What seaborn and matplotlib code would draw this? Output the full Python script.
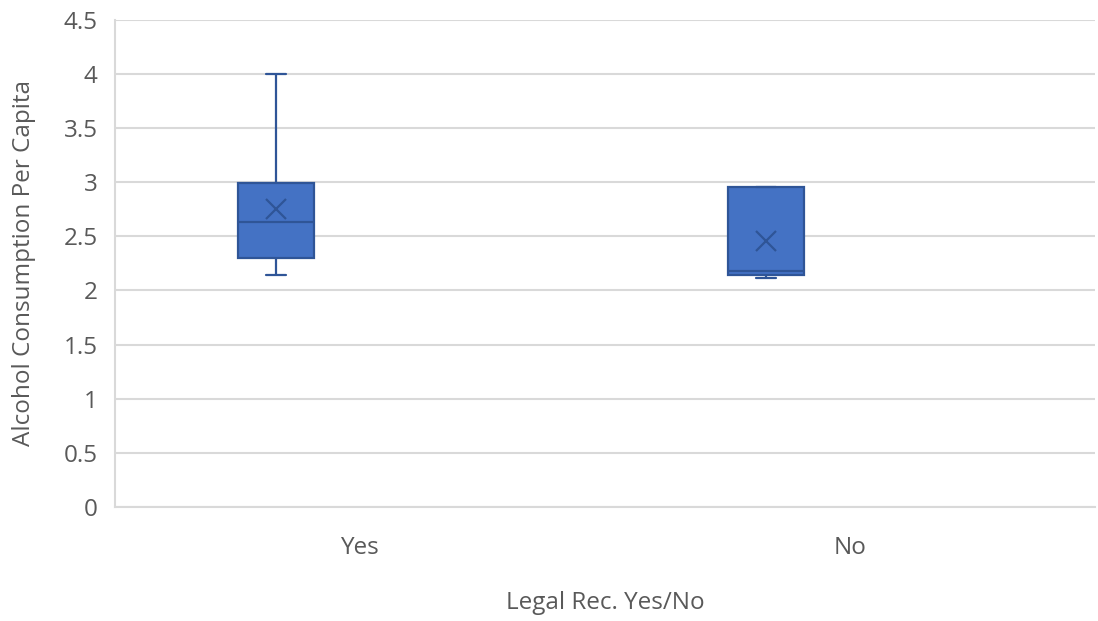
import matplotlib
matplotlib.use("Agg")
import matplotlib.pyplot as plt
import seaborn as sns
import pandas as pd

# Observations per group
legal_yes = [2.14, 2.20, 2.30, 2.50, 2.63, 2.80, 2.99, 3.20, 4.00]
legal_no = [2.12, 2.13, 2.14, 2.16, 2.18, 2.50, 2.96, 2.96, 2.96]
categories = ["Yes", "No"]
series_levels = ["Series1", "Series2"]
y_ticks = [0, 0.5, 1, 1.5, 2, 2.5, 3, 3.5, 4, 4.5]
y_tick_labels = ["0", "0.5", "1", "1.5", "2", "2.5", "3", "3.5", "4", "4.5"]

x_name = "Legal Rec. Yes/No"
y_name = "Alcohol Consumption Per Capita"

df = pd.DataFrame({
    x_name: ["Yes"] * len(legal_yes) + ["No"] * len(legal_no),
    y_name: legal_yes + legal_no,
    "series": series_levels[0],
})

fill = "#4472C4"
edge = "#2F5597"
text_color = "#595959"
grid_color = "#D9D9D9"
font_size = 17.5

sns.set_theme(style="white")
plt.rcParams["font.family"] = ["Open Sans", "DejaVu Sans"]

fig, ax = plt.subplots(figsize=(10.98, 6.21), dpi=100)
fig.subplots_adjust(left=0.1047, right=0.997, top=0.968, bottom=0.1836)

sns.boxplot(
    data=df, x=x_name, y=y_name, hue="series",
    order=categories, hue_order=series_levels,
    palette={series_levels[0]: fill, series_levels[1]: fill},
    saturation=1, dodge=True, width=0.686, gap=0.548,
    linecolor=edge, linewidth=1.6, legend=False, ax=ax,
    capwidths=0.041,
    showmeans=True,
    meanprops=dict(marker="x", markersize=14, markeredgecolor=edge,
                   markeredgewidth=1.6, markerfacecolor=edge),
    zorder=3,
)

ax.set_ylim(0, 4.5)
ax.set_xlim(-0.5, 1.5)
ax.set_yticks(y_ticks)
ax.set_yticklabels(y_tick_labels)
ax.yaxis.grid(True, color=grid_color, linewidth=1.5, zorder=0)
ax.set_axisbelow(True)

for side in ["top", "right"]:
    ax.spines[side].set_visible(False)
for side in ["left", "bottom"]:
    ax.spines[side].set_color(grid_color)
    ax.spines[side].set_linewidth(1.5)

ax.tick_params(axis="y", length=0, pad=12.5, labelsize=font_size, labelcolor=text_color)
ax.tick_params(axis="x", length=0, pad=21, labelsize=font_size, labelcolor=text_color)

ax.set_xlabel(x_name, fontsize=font_size, color=text_color, labelpad=22)
ax.set_ylabel(y_name, fontsize=font_size, color=text_color, labelpad=19.5)

fig.savefig("out.png", dpi=100)
